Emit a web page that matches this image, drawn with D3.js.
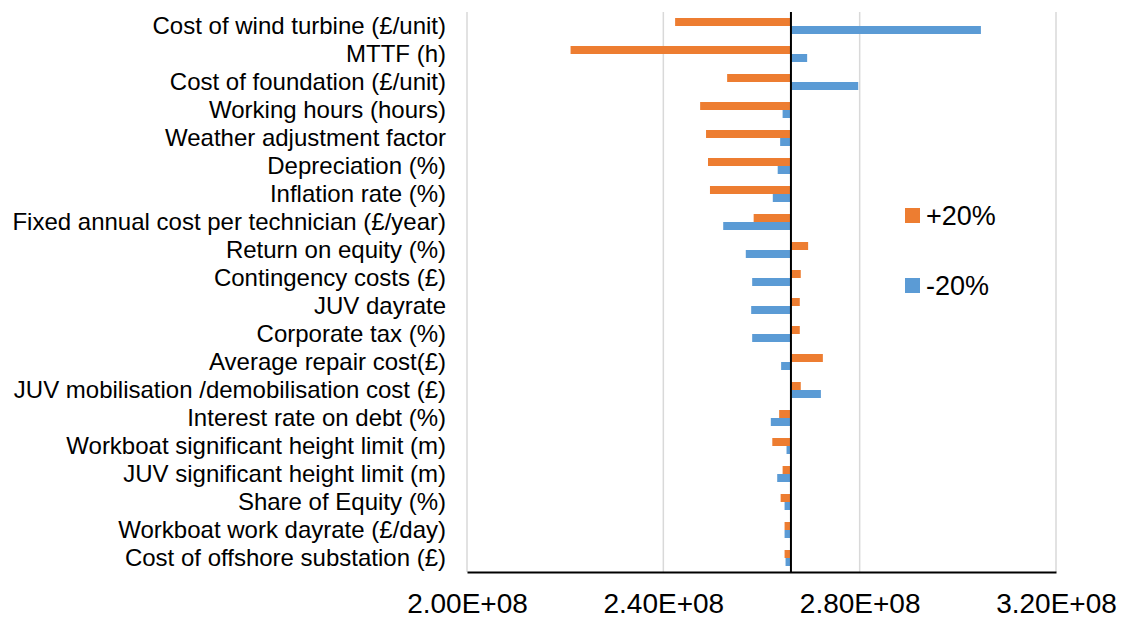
<!DOCTYPE html>
<html lang="en">

<head>
    <meta charset="UTF-8">
    <title>Tornado chart</title>
    <script src="https://cdn.jsdelivr.net/npm/d3@7"></script>
    <style>
        body {
            margin: 0;
            background: #fff;
        }

        svg {
            font-family: "Liberation Sans", Arial, sans-serif;
        }
    </style>
</head>

<body>
    <script>
        // parameters, top to bottom
        var categories = [
            'Cost of wind turbine (£/unit)',
            'MTTF (h)',
            'Cost of foundation (£/unit)',
            'Working hours (hours)',
            'Weather adjustment factor',
            'Depreciation (%)',
            'Inflation rate (%)',
            'Fixed annual cost per technician (£/year)',
            'Return on equity (%)',
            'Contingency costs (£)',
            'JUV dayrate',
            'Corporate tax (%)',
            'Average repair cost(£)',
            'JUV mobilisation /demobilisation cost (£)',
            'Interest rate on debt (%)',
            'Workboat significant height limit (m)',
            'JUV significant height limit (m)',
            'Share of Equity (%)',
            'Workboat work dayrate (£/day)',
            'Cost of offshore substation (£)'
        ];
        // result with parameter +20%
        var plus20 = [2.424e8, 2.211e8, 2.530e8, 2.475e8, 2.487e8, 2.491e8, 2.495e8, 2.584e8, 2.695e8, 2.680e8,
            2.678e8, 2.678e8, 2.725e8, 2.680e8, 2.636e8, 2.622e8, 2.643e8, 2.639e8, 2.647e8, 2.647e8];
        // result with parameter -20%
        var minus20 = [3.047e8, 2.693e8, 2.797e8, 2.643e8, 2.638e8, 2.633e8, 2.623e8, 2.522e8, 2.568e8, 2.581e8,
            2.579e8, 2.581e8, 2.640e8, 2.721e8, 2.619e8, 2.651e8, 2.632e8, 2.647e8, 2.647e8, 2.649e8];
        var baseValue = 2.66e8;
        var xTicks = [2.0e8, 2.4e8, 2.8e8, 3.2e8];
        var seriesNames = ['+20%', '-20%'];
        var colors = ['#ED7D31', '#5B9BD5'];

        var width = 1123,
            height = 619;

        var svg = d3.select('body').append('svg')
            .attr('width', width)
            .attr('height', height);

        var x = d3.scaleLinear().domain([2.0e8, 3.2e8]).range([467, 1056]);
        var y = d3.scaleBand().domain(categories).range([12, 572]);
        var ySub = d3.scaleBand().domain(seriesNames)
            .range([0, y.bandwidth()])
            .paddingOuter(0.75);

        // gridlines
        svg.append('g').selectAll('line')
            .data(xTicks)
            .enter()
            .append('line')
            .attr('x1', function(d) { return x(d); })
            .attr('x2', function(d) { return x(d); })
            .attr('y1', 12)
            .attr('y2', 572)
            .attr('stroke', '#D9D9D9')
            .attr('stroke-width', 1.5);

        // bars
        var rows = categories.map(function(c, i) {
            return { cat: c, vals: [plus20[i], minus20[i]] };
        });
        svg.append('g').selectAll('g.row')
            .data(rows)
            .enter()
            .append('g')
            .attr('class', 'row')
            .attr('transform', function(d) { return 'translate(0,' + y(d.cat) + ')'; })
            .each(function(d) {
                d3.select(this).selectAll('rect')
                    .data(d.vals)
                    .enter()
                    .append('rect')
                    .attr('x', function(v) { return x(Math.min(v, baseValue)); })
                    .attr('width', function(v) { return Math.abs(x(v) - x(baseValue)); })
                    .attr('y', function(v, j) { return ySub(seriesNames[j]); })
                    .attr('height', ySub.bandwidth())
                    .attr('fill', function(v, j) { return colors[j]; });
            });

        // vertical axis at base value
        svg.append('line')
            .attr('x1', x(baseValue)).attr('x2', x(baseValue))
            .attr('y1', 12).attr('y2', 572)
            .attr('stroke', '#000')
            .attr('stroke-width', 2);

        // bottom axis
        var xAxis = d3.axisBottom(x)
            .tickValues(xTicks)
            .tickSize(0)
            .tickPadding(21)
            .tickFormat(function(d) {
                var s = d.toExponential(2).toUpperCase();
                return s.replace(/E([+-])(\d)$/, 'E$10$2');
            });
        var gx = svg.append('g')
            .attr('transform', 'translate(0,572)')
            .call(xAxis);
        gx.select('.domain').attr('stroke', '#000').attr('stroke-width', 2);
        gx.selectAll('text')
            .attr('fill', '#000')
            .style('font-size', '28px')
            .style('font-family', '"Liberation Sans", Arial, sans-serif');

        // category labels
        var yAxis = d3.axisLeft(y).tickSize(0).tickPadding(21);
        var gy = svg.append('g')
            .attr('transform', 'translate(467,0)')
            .call(yAxis);
        gy.select('.domain').remove();
        gy.selectAll('text')
            .attr('fill', '#000')
            .style('font-size', '24px')
            .style('font-family', '"Liberation Sans", Arial, sans-serif');

        // legend
        var legend = svg.append('g').selectAll('g')
            .data(seriesNames)
            .enter()
            .append('g')
            .attr('transform', function(d, i) { return 'translate(905,' + (208 + i * 70) + ')'; });
        legend.append('rect')
            .attr('width', 15)
            .attr('height', 15)
            .attr('fill', function(d, i) { return colors[i]; });
        legend.append('text')
            .attr('x', 21)
            .attr('y', 7.5)
            .attr('dy', '0.35em')
            .style('font-size', '27px')
            .attr('fill', '#000')
            .text(function(d) { return d; });
    </script>
</body>

</html>
